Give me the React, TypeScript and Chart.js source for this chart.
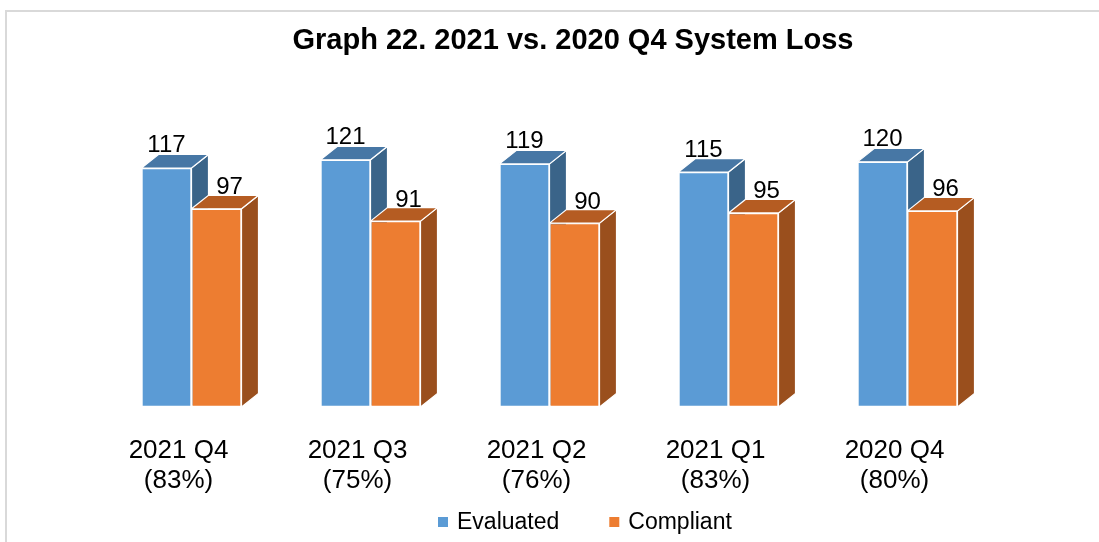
import { useEffect, useRef } from "react";
import { Chart, registerables } from "chart.js";

Chart.register(...registerables);

const titleText = "Graph 22. 2021 vs. 2020 Q4 System Loss";
const categories = ["2021 Q4", "2021 Q3", "2021 Q2", "2021 Q1", "2020 Q4"];
const compliancePct = ["(83%)", "(75%)", "(76%)", "(83%)", "(80%)"];
const seriesNames = ["Evaluated", "Compliant"];
const evaluated = [117, 121, 119, 115, 120];
const compliant = [97, 91, 90, 95, 96];

const FONT = '"Liberation Sans", Arial, Helvetica, sans-serif';
const DX = 17;
const DY = -13.5;
const faces = [
  { front: "#5B9BD5", top: "#4777A5", side: "#3A6489" },
  { front: "#ED7D31", top: "#B55C22", side: "#9A4F1D" },
];

function poly(ctx: CanvasRenderingContext2D, pts: number[][], fill: string) {
  ctx.beginPath();
  ctx.moveTo(pts[0][0], pts[0][1]);
  for (let k = 1; k < pts.length; k++) ctx.lineTo(pts[k][0], pts[k][1]);
  ctx.closePath();
  ctx.fillStyle = fill;
  ctx.fill();
  ctx.strokeStyle = "#FFFFFF";
  ctx.lineWidth = 1.2;
  ctx.stroke();
}

const threeD = {
  id: "threeD",
  beforeDraw(chart: any) {
    const ctx = chart.ctx as CanvasRenderingContext2D;
    ctx.save();
    ctx.strokeStyle = "#D9D9D9";
    ctx.lineWidth = 2;
    ctx.strokeRect(6, 11, 1400, 800);
    ctx.restore();
  },
  beforeDatasetsDraw(chart: any) {
    const ctx = chart.ctx as CanvasRenderingContext2D;
    ctx.save();
    const n = chart.data.labels.length;
    for (let j = 0; j < n; j++) {
      for (let i = 0; i < chart.data.datasets.length; i++) {
        const el = chart.getDatasetMeta(i).data[j];
        const { x, y, base, width } = el.getProps(["x", "y", "base", "width"], true);
        const l = x - width / 2;
        const r = x + width / 2;
        const f = faces[i];
        poly(ctx, [[r, y], [r + DX, y + DY], [r + DX, base + DY], [r, base]], f.side);
        poly(ctx, [[l, y], [l + DX, y + DY], [r + DX, y + DY], [r, y]], f.top);
      }
    }
    ctx.restore();
  },
  afterDatasetsDraw(chart: any) {
    const ctx = chart.ctx as CanvasRenderingContext2D;
    ctx.save();
    ctx.font = `24px ${FONT}`;
    ctx.fillStyle = "#000000";
    ctx.textAlign = "center";
    ctx.textBaseline = "alphabetic";
    chart.data.datasets.forEach((ds: any, i: number) => {
      chart.getDatasetMeta(i).data.forEach((el: any, j: number) => {
        const { x, y } = el.getProps(["x", "y"], true);
        const cx = i === 0 ? x : x + 13;
        const by = i === 0 ? y + DY - 2 : y + DY - 1;
        ctx.fillText(String(ds.data[j]), cx, by);
      });
    });
    ctx.restore();
  },
  afterDraw(chart: any) {
    const ctx = chart.ctx as CanvasRenderingContext2D;
    ctx.save();
    ctx.fillStyle = "#000000";
    // title
    ctx.font = `bold 29px ${FONT}`;
    ctx.textAlign = "center";
    ctx.fillText(titleText, 573, 49);
    // category labels
    ctx.font = `26px ${FONT}`;
    const xs = chart.scales.x;
    categories.forEach((c, j) => {
      const px = xs.getPixelForValue(j) - 13;
      ctx.fillText(c, px, 458);
      ctx.fillText(compliancePct[j], px, 488);
    });
    // legend
    ctx.font = `23px ${FONT}`;
    ctx.textAlign = "left";
    let lx = 438;
    seriesNames.forEach((name, i) => {
      ctx.fillStyle = faces[i].front;
      ctx.fillRect(lx, 517, 10, 10);
      lx += 19;
      ctx.fillStyle = "#000000";
      ctx.fillText(name, lx, 529);
      lx += ctx.measureText(name).width + 50;
    });
    ctx.restore();
  },
};

export default function App() {
  const ref = useRef<HTMLCanvasElement | null>(null);
  useEffect(() => {
    if (!ref.current) return;
    const chart = new Chart(ref.current, {
      type: "bar",
      data: {
        labels: categories,
        datasets: [
          {
            label: seriesNames[0],
            data: evaluated,
            backgroundColor: faces[0].front,
            borderColor: "#FFFFFF",
            borderWidth: 1.2,
            borderSkipped: false,
          },
          {
            label: seriesNames[1],
            data: compliant,
            backgroundColor: faces[1].front,
            borderColor: "#FFFFFF",
            borderWidth: 1.2,
            borderSkipped: false,
          },
        ],
      },
      options: {
        responsive: false,
        animation: false,
        maintainAspectRatio: false,
        layout: { padding: { left: 102, right: 102, top: 121, bottom: 135 } },
        datasets: { bar: { barPercentage: 1, categoryPercentage: 100 / 179 } },
        scales: {
          x: { display: false },
          y: { display: false, min: 0, max: 140 },
        },
        plugins: {
          legend: { display: false },
          title: { display: false },
          tooltip: { enabled: false },
        },
      },
      plugins: [threeD],
    });
    return () => chart.destroy();
  }, []);
  return (
    <div style={{ position: "fixed", left: 0, top: 0, width: 1099, height: 542, background: "#FFFFFF" }}>
      <canvas ref={ref} width={1099} height={542} style={{ display: "block" }} />
    </div>
  );
}
